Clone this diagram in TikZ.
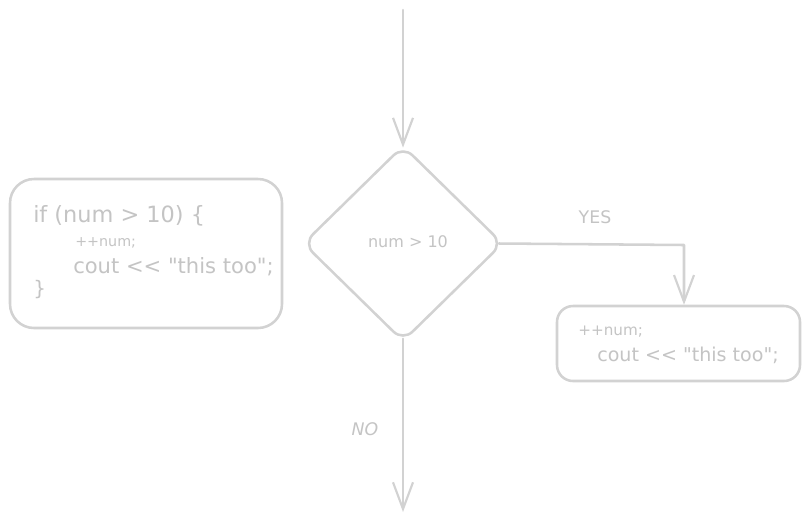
\documentclass[tikz,border=0pt]{standalone}
\usepackage{fontspec}
\setmainfont{DejaVu Sans}[Ligatures=TeXOff]
\usetikzlibrary{arrows.meta,shapes.geometric}
\definecolor{inkline}{HTML}{D2D2D2}
\definecolor{inktext}{HTML}{C4C4C4}
\tikzset{
  flowline/.style={draw=inkline, line width=1.9pt, line cap=round, line join=round},
  flowarrow/.style={flowline, -{Straight Barb[length=20pt,width=15pt,line width=1.6pt]}},
  codebox/.style={flowline, rectangle, inner sep=0pt},
  decision/.style={flowline, diamond, aspect=1, inner sep=0pt, rounded corners=10pt,
    minimum width=150pt, minimum height=147pt},
  codetext/.style={text=inktext, anchor=base west, inner sep=0pt, font=\fontsize{15}{17}\selectfont},
  smalltext/.style={codetext, font=\fontsize{10.7}{12}\selectfont},
  lbl/.style={text=inktext, inner sep=0pt, font=\fontsize{12.5}{14}\selectfont},
}
\begin{document}
\begin{tikzpicture}[x=0.75pt, y=-0.75pt]
  \fill[white] (0,0) rectangle (809,522);
  \useasboundingbox (0,0) rectangle (809,522);

  % decision
  \node[decision] (cond) at (403,243.5) {};
  \node[lbl, font=\fontsize{12}{14}\selectfont] (condtext) at (408,242) {num > 10};

  % entry and exits
  \coordinate (start) at (403,10);
  \coordinate (stop) at (403,512);
  \coordinate (bend) at (684,245);
  \draw[flowarrow] (start) -- ([yshift=-2.5pt]cond.north);
  \draw[flowarrow] ([yshift=3pt]cond.south) -- (stop);

  % left code block
  \node[codebox, rounded corners=18pt, minimum width=204pt, minimum height=111.75pt]
    (leftbox) at (146,253.5) {};
  \node[codetext, font=\fontsize{16.8}{18}\selectfont] (l1) at (33,222) {if (num > 10) \{};
  \node[smalltext] (l2) at (75,246) {++num;};
  \node[codetext, font=\fontsize{15.8}{17}\selectfont] (l3) at (73,273) {cout << "this too";};
  \node[codetext] (l4) at (33,295) {\}};

  % right code block
  \node[codebox, rounded corners=12pt, minimum width=182.25pt, minimum height=56.25pt]
    (rightbox) at (678.5,343.5) {};
  \node[smalltext, font=\fontsize{11.4}{13}\selectfont] (r1) at (578,335) {++num;};
  \node[codetext, font=\fontsize{14.3}{16}\selectfont] (r2) at (597,361) {cout << "this too";};

  % yes branch
  \draw[flowarrow] ([xshift=-4pt]cond.east) -- (bend) -- (rightbox.north -| bend);
  \node[lbl, font=\fontsize{13}{15}\selectfont] (yes) at (595,217) {YES};
  \node[lbl, font=\itshape\fontsize{13}{15}\selectfont] (no) at (365,429) {NO};
\end{tikzpicture}
\end{document}
